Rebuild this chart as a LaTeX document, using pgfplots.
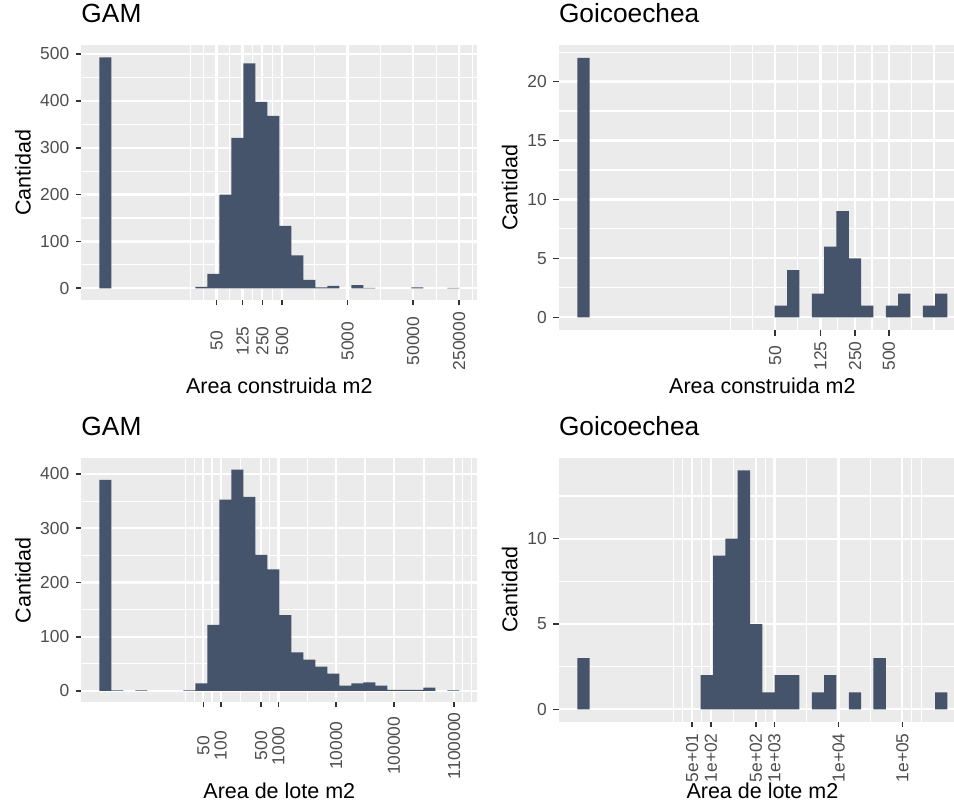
\documentclass[border=0pt]{standalone}
\usepackage{fontspec}
\setmainfont{Liberation Sans}
\usepackage{pgfplots}
\pgfplotsset{compat=1.18}
\definecolor{barcol}{RGB}{69,83,107}
\definecolor{panelbg}{RGB}{235,235,235}
\definecolor{gray30}{RGB}{77,77,77}
\definecolor{gray20}{RGB}{51,51,51}
\pgfplotsset{
  ggp/.style={
    scale only axis,
    anchor=south west,
    xmin=-1.5, xmax=31.5,
    axis line style={draw=none},
    axis background/.style={fill=panelbg},
    tick align=outside,
    tick pos=left,
    major tick length=5.4bp,
    minor tick length=0pt,
    tick style={gray20, line width=1.6bp},
    xmajorgrids, ymajorgrids, xminorgrids, yminorgrids,
    major grid style={white, line width=2.2bp},
    minor grid style={white, line width=1.1bp},
    ticklabel style={font=\fontsize{17.4bp}{20bp}\selectfont, text=gray30, inner sep=0pt},
    /pgf/number format/assume math mode=true,
    xticklabel style={rotate=90, anchor=center},
    yticklabel style={anchor=east},
    yticklabel shift=6.5bp,
    label style={font=\fontsize{21.5bp}{24bp}\selectfont, inner sep=0pt},
    title style={font=\fontsize{26.3bp}{30bp}\selectfont, anchor=base west, inner sep=0pt},
    ylabel={Cantidad},
  },
  bars/.style={ybar, bar width=1, bar shift=0pt, fill=barcol, draw=none},
}
\begin{document}
\begin{tikzpicture}
\path[use as bounding box, clip] (0,0) rectangle (954bp,811bp);

% ---------- Panel 1: GAM, Area construida ----------
\begin{axis}[ggp,
  at={(81.3bp,511bp)}, width=396bp, height=255bp,
  ymin=-25, ymax=519.2,
  ytick={0,100,200,300,400,500},
  minor ytick={50,150,250,350,450},
  xtick={9.77,11.94,13.59,15.23,20.69,26.16,29.98},
  xticklabels={50,125,250,500,5000,50000,250000},
  minor xtick={7.60,8.685,10.855,12.765,14.41,17.96,23.425,28.07,31.065},
  xticklabel shift=35.6bp,
  title={GAM},
  title style={at={(axis description cs:0,1.0655)}},
  xlabel={Area construida m2},
  xlabel style={at={(axis description cs:0.5,-0.3659)}, anchor=base},
  ylabel style={at={(axis description cs:-0.1278,0.5)}, anchor=base},
]
\addplot[bars] coordinates {
 (0.5,493) (8.5,3) (9.5,31) (10.5,200) (11.5,321) (12.5,480) (13.5,398)
 (14.5,368) (15.5,133) (16.5,70) (17.5,18) (18.5,2) (19.5,5) (21.5,7)
 (22.5,1) (26.5,2) (29.5,1)
};
\end{axis}

% ---------- Panel 2: Goicoechea, Area construida ----------
\begin{axis}[ggp,
  at={(558.8bp,480.7bp)}, width=407.2bp, height=285.3bp,
  ymin=-1.1, ymax=23.1,
  ytick={0,5,10,15,20},
  minor ytick={2.5,7.5,12.5,17.5,22.5},
  xtick={16.04,19.70,22.51,25.25},
  xticklabels={50,125,250,500},
  minor xtick={12.38,14.21,17.87,21.105,23.88,27.08,28.91},
  xticklabel shift=20.3bp,
  title={Goicoechea},
  title style={at={(axis description cs:0,1.0585)}},
  xlabel={Area construida m2},
  xlabel style={at={(axis description cs:0.5,-0.2208)}, anchor=base},
  ylabel style={at={(axis description cs:-0.1019,0.5)}, anchor=base},
]
\addplot[bars] coordinates {
 (0.5,22) (16.5,1) (17.5,4) (19.5,2) (20.5,6) (21.5,9) (22.5,5) (23.5,1)
 (25.5,1) (26.5,2) (28.5,1) (29.5,2)
};
\end{axis}

% ---------- Panel 3: GAM, Area de lote ----------
\begin{axis}[ggp,
  at={(81.3bp,109bp)}, width=396bp, height=243.5bp,
  ymin=-20.3, ymax=428.6,
  ytick={0,100,200,300,400},
  minor ytick={50,150,250,350},
  xtick={8.67,10.12,13.48,14.93,19.74,24.55,29.56},
  xticklabels={50,100,500,1000,10000,100000,1100000},
  minor xtick={7.22,7.945,9.395,11.8,14.205,17.335,22.145,27.055,30.285,31.01},
  xticklabel shift=38.4bp,
  title={GAM},
  title style={at={(axis description cs:0,1.069)}},
  xlabel={Area de lote m2},
  xlabel style={at={(axis description cs:0.5,-0.3955)}, anchor=base},
  ylabel style={at={(axis description cs:-0.1278,0.5)}, anchor=base},
]
\addplot[bars] coordinates {
 (0.5,389) (1.5,1) (3.5,1) (7.5,1) (8.5,14) (9.5,122) (10.5,353) (11.5,408)
 (12.5,358) (13.5,251) (14.5,224) (15.5,140) (16.5,71) (17.5,58) (18.5,45)
 (19.5,32) (20.5,10) (21.5,14) (22.5,16) (23.5,10) (24.5,2) (25.5,2)
 (26.5,2) (27.5,6) (29.5,1)
};
\end{axis}

% ---------- Panel 4: Goicoechea, Area de lote ----------
\begin{axis}[ggp,
  at={(558.8bp,89.5bp)}, width=407.2bp, height=263.1bp,
  ymin=-0.71, ymax=14.7,
  ytick={0,5,10},
  minor ytick={2.5,7.5,12.5},
  xtick={9.30,10.83,14.47,15.98,21.17,26.34},
  xticklabels={5e+01,1e+02,5e+02,1e+03,1e+04,1e+05},
  minor xtick={7.77,8.535,10.065,12.65,15.225,18.575,23.755,27.105,27.87},
  xticklabel shift=30.9bp,
  title={Goicoechea},
  title style={at={(axis description cs:0,1.0639)}},
  xlabel={Area de lote m2},
  xlabel style={at={(axis description cs:0.5,-0.2919)}, anchor=base},
  ylabel style={at={(axis description cs:-0.1019,0.5)}, anchor=base},
]
\addplot[bars] coordinates {
 (0.5,3) (10.5,2) (11.5,9) (12.5,10) (13.5,14) (14.5,5) (15.5,1) (16.5,2)
 (17.5,2) (19.5,1) (20.5,2) (22.5,1) (24.5,3) (29.5,1)
};
\end{axis}
\end{tikzpicture}
\end{document}
